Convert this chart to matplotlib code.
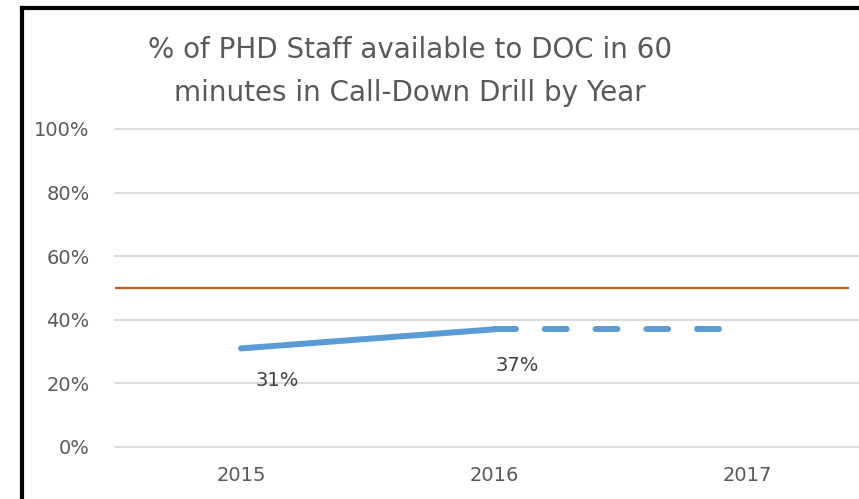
import matplotlib
matplotlib.use("Agg")
import matplotlib.pyplot as plt
from matplotlib.lines import Line2D
from matplotlib.ticker import PercentFormatter

# données
annees = ["2015", "2016", "2017"]
reel = [0.31, 0.37]            # 2015, 2016
projection = [0.37, 0.37]      # 2016 -> 2017 (pointillés)
cible = 0.50
etiquettes = ["31%", "37%"]
yticks = [0, 0.2, 0.4, 0.6, 0.8, 1.0]

plt.rcParams["font.family"] = ["DejaVu Sans"]
gris = "#595959"

fig = plt.figure(figsize=(8.59, 4.99), dpi=100)
W, H = 859, 499
# axes : gauche 114.5 px, bas 447 px (depuis le haut), haut 129 px
ax = fig.add_axes([114.5 / W, (H - 447) / H, (W - 114.5) / W, 318 / H])

x_reel = [0, 1]
x_proj = [1, 2]
ax.plot(x_reel, reel, color="#5B9BD5", lw=4.3, solid_capstyle="round", zorder=3)
ax.plot(x_proj, projection, color="#5B9BD5", lw=4.3, linestyle=(0, (3.67, 4.83)),
        dash_capstyle="round", zorder=3)
ax.axhline(cible, xmin=0, xmax=0.985, color="#C55A11", lw=1.6, zorder=2)

for xi, yi, txt, dy in zip(x_reel, reel, etiquettes, [-23, -26]):
    ax.annotate(txt, (xi, yi), xytext=(26 if xi == 0 else 17, dy), textcoords="offset points",
                ha="center", va="center", fontsize=14, color="#404040")

ax.set_xlim(-0.5, -0.5 + (W - 114.5) / 253)
ax.set_ylim(0, 1)
ax.set_xticks(range(len(annees)))
ax.set_xticklabels(annees)
ax.set_yticks(yticks)
ax.yaxis.set_major_formatter(PercentFormatter(1.0, decimals=0))
ax.grid(axis="y", color="#D9D9D9", lw=1.3)
for g in ax.get_ygridlines():
    g.set_clip_on(False)
ax.set_axisbelow(True)
for s in ax.spines.values():
    s.set_visible(False)
ax.tick_params(axis="both", length=0, labelsize=14, labelcolor=gris)
ax.tick_params(axis="y", pad=18)
ax.tick_params(axis="x", pad=14)

fig.text(410 / W, 1 - 50 / H, "% of PHD Staff available to DOC in 60",
         ha="center", va="center", fontsize=20, color=gris)
fig.text(410 / W, 1 - 93 / H, "minutes in Call-Down Drill by Year",
         ha="center", va="center", fontsize=20, color=gris)

# cadre noir (haut et gauche)
fig.add_artist(Line2D([22 / W, 1], [1 - 8 / H, 1 - 8 / H], color="black", lw=3,
                      transform=fig.transFigure, solid_capstyle="projecting"))
fig.add_artist(Line2D([22 / W, 22 / W], [0, 1 - 8 / H], color="black", lw=3,
                      transform=fig.transFigure, solid_capstyle="projecting"))

fig.savefig("out.png", dpi=100, facecolor="white")
